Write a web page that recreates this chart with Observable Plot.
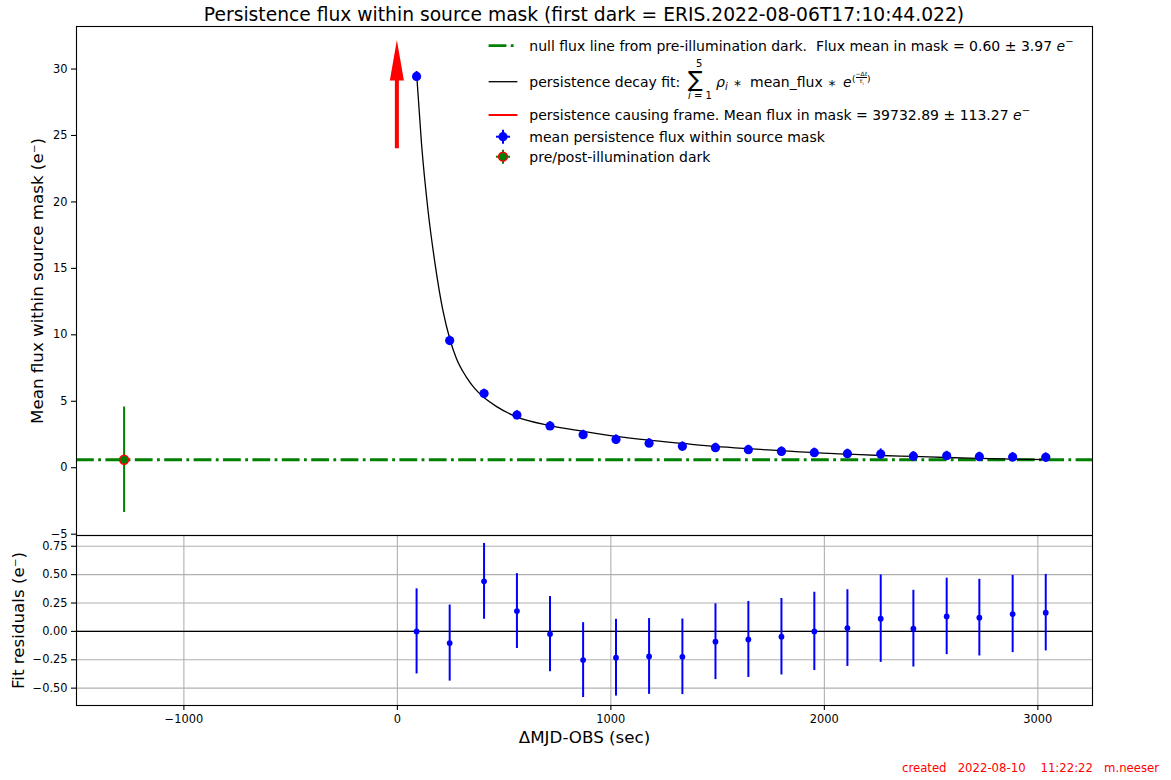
<!DOCTYPE html>
<html><head><meta charset="utf-8">
<script src="https://cdn.jsdelivr.net/npm/d3@7"></script>
<script src="https://cdn.jsdelivr.net/npm/@observablehq/plot@0.6"></script>
<style>
body{margin:0;background:#fff;font-family:"DejaVu Sans",sans-serif;color:#000;}
#fig{position:relative;width:1171px;height:780px;overflow:hidden;background:#fff;}
#fig > svg{position:absolute;left:0;}
.abs{position:absolute;white-space:pre;line-height:18px;font-size:14px;}
</style></head><body><div id="fig"></div>
<script>
// ---------------- data ----------------
const dtSec = [90, 245, 406, 560, 715, 870, 1024, 1179, 1335, 1490, 1644, 1799, 1953, 2108, 2264, 2417, 2573, 2726, 2882, 3037];
const meanFlux = [29.44, 9.57, 5.58, 3.96, 3.14, 2.49, 2.13, 1.85, 1.61, 1.51, 1.36, 1.23, 1.13, 1.06, 1.03, 0.87, 0.90, 0.83, 0.80, 0.78];
const fluxErr = [0.375, 0.335, 0.334, 0.33, 0.331, 0.33, 0.338, 0.334, 0.333, 0.334, 0.335, 0.337, 0.345, 0.338, 0.385, 0.338, 0.337, 0.338, 0.34, 0.337];
const residual = [0.00, -0.103, 0.441, 0.179, -0.024, -0.253, -0.232, -0.221, -0.224, -0.091, -0.071, -0.047, 0.00, 0.029, 0.112, 0.024, 0.132, 0.121, 0.153, 0.165];
const residualErr = [0.375, 0.335, 0.334, 0.33, 0.331, 0.33, 0.338, 0.334, 0.333, 0.334, 0.335, 0.337, 0.345, 0.338, 0.385, 0.338, 0.337, 0.338, 0.34, 0.337];
const fitDt = [91, 113, 144, 176, 213, 246, 277, 324, 363, 406, 465, 560, 715, 870, 1024, 1179, 1335, 1490, 1644, 1799, 1953, 2108, 2264, 2417, 2573, 2726, 2882, 3037];
const fitFlux = [29.44, 24.4, 19.3, 15.4, 11.85, 9.67, 8.2, 6.8, 5.95, 5.28, 4.6, 3.82, 3.16, 2.74, 2.36, 2.07, 1.83, 1.60, 1.43, 1.28, 1.13, 1.03, 0.92, 0.85, 0.77, 0.71, 0.65, 0.61];
const darkDt = [-1280];
const darkFlux = [0.60];
const darkErr = [3.97];
const nullFlux = 0.60;
const causingFrame = {dt: 0, y: 24.0, dy: 8.15};
const xTicks = [-1000, 0, 1000, 2000, 3000];
const yTicksTop = [-5, 0, 5, 10, 15, 20, 25, 30];
const yTicksRes = [-0.5, -0.25, 0, 0.25, 0.5, 0.75];
const titleText = "Persistence flux within source mask (first dark = ERIS.2022-08-06T17:10:44.022)";
const yLabelTop = "Mean flux within source mask (e\u207B)";
const yLabelRes = "Fit residuals (e\u207B)";
const xLabel = "\u0394MJD-OBS (sec)";
const captionText = "created   2022-08-10    11:22:22   m.neeser";

// ---------------- tables ----------------
const points = dtSec.map((d, i) => ({dt: d, flux: meanFlux[i], err: fluxErr[i], res: residual[i], rerr: residualErr[i]}));
const fit = fitDt.map((d, i) => ({dt: d, flux: fitFlux[i]}));
const dark = darkDt.map((d, i) => ({dt: d, flux: darkFlux[i], err: darkErr[i]}));
function arrowPoly(a) {
  const shaftHalf = 9.4, headHalf = 33, headLen = 3.05;
  const yb = a.y + a.dy - headLen;
  return [
    {y: a.y, x1: a.dt - shaftHalf, x2: a.dt + shaftHalf},
    {y: yb, x1: a.dt - shaftHalf, x2: a.dt + shaftHalf},
    {y: yb, x1: a.dt - headHalf, x2: a.dt + headHalf},
    {y: a.y + a.dy, x1: a.dt, x2: a.dt}
  ];
}

const FONT = "DejaVu Sans";
const TICK_FS = 11.4;
const xDomain = [-1503, 3256];
const fmtInt = d3.format("d");
const fmt2 = d3.format(".2f");
const dashdot = "17.8,4.4,2.8,4.4";
const fig = document.getElementById("fig");

// ---------------- top panel ----------------
const topChart = Plot.plot({
  width: 1171, height: 540,
  marginLeft: 76, marginRight: 79, marginTop: 26, marginBottom: 5,
  style: {fontFamily: FONT, background: "transparent", overflow: "visible"},
  x: {domain: xDomain, axis: null},
  y: {domain: [-5.1, 33.2]},
  marks: [
    Plot.ruleY([nullFlux], {stroke: "green", strokeWidth: 2.8, strokeDasharray: dashdot}),
    Plot.ruleX(dark, {x: "dt", y1: d => d.flux - d.err, y2: d => d.flux + d.err, stroke: "green", strokeWidth: 2}),
    Plot.line(fit, {x: "dt", y: "flux", stroke: "black", strokeWidth: 1.3, curve: "monotone-x"}),
    Plot.ruleX(points, {x: "dt", y1: d => d.flux - d.err, y2: d => d.flux + d.err, stroke: "blue", strokeWidth: 2}),
    Plot.dot(points, {x: "dt", y: "flux", r: 4.6, fill: "blue", stroke: "none"}),
    Plot.dot(dark, {x: "dt", y: "flux", r: 4.4, fill: "green", stroke: "red", strokeWidth: 1.5}),
    Plot.areaX(arrowPoly(causingFrame), {y: "y", x1: "x1", x2: "x2", fill: "red", curve: "linear"}),
    Plot.frame({stroke: "black", strokeWidth: 1.1}),
    Plot.axisY({ticks: yTicksTop, tickFormat: fmtInt, tickSize: 5, tickPadding: 4, fontSize: TICK_FS, strokeWidth: 1.1, label: null}),
    Plot.text([yLabelTop], {text: d => d, frameAnchor: "left", textAnchor: "middle", lineAnchor: "middle", rotate: -90, dx: -39, fontSize: 16.7})
  ]
});
topChart.style.top = "0px";
fig.appendChild(topChart);

// ---------------- residual panel ----------------
const botChart = Plot.plot({
  width: 1171, height: 225,
  marginLeft: 76, marginRight: 79, marginTop: 5, marginBottom: 50,
  style: {fontFamily: FONT, background: "transparent", overflow: "visible"},
  x: {domain: xDomain},
  y: {domain: [-0.653, 0.845]},
  marks: [
    Plot.gridX(xTicks, {stroke: "#b0b0b0", strokeOpacity: 1, strokeWidth: 1.1}),
    Plot.gridY(yTicksRes, {stroke: "#b0b0b0", strokeOpacity: 1, strokeWidth: 1.1}),
    Plot.ruleY([0], {stroke: "black", strokeWidth: 1.3}),
    Plot.ruleX(points, {x: "dt", y1: d => d.res - d.rerr, y2: d => d.res + d.rerr, stroke: "blue", strokeWidth: 2}),
    Plot.dot(points, {x: "dt", y: "res", r: 2.9, fill: "blue", stroke: "none"}),
    Plot.frame({stroke: "black", strokeWidth: 1.1}),
    Plot.axisY({ticks: yTicksRes, tickFormat: fmt2, tickSize: 5, tickPadding: 4, fontSize: TICK_FS, strokeWidth: 1.1, label: null}),
    Plot.axisX({ticks: xTicks, tickFormat: fmtInt, tickSize: 5, tickPadding: 4, fontSize: TICK_FS, strokeWidth: 1.1, label: null}),
    Plot.text([yLabelRes], {text: d => d, frameAnchor: "left", textAnchor: "middle", lineAnchor: "middle", rotate: -90, dx: -57.5, fontSize: 16.7}),
    Plot.text([xLabel], {text: d => d, frameAnchor: "bottom", textAnchor: "middle", lineAnchor: "middle", dy: 32, fontSize: 16.7})
  ]
});
botChart.style.top = "530px";
fig.appendChild(botChart);

// ---------------- title & caption ----------------
function addDiv(html, css) {
  const d = document.createElement("div");
  d.className = "abs";
  d.innerHTML = html;
  Object.assign(d.style, css);
  fig.appendChild(d);
  return d;
}
addDiv(titleText, {left: "76px", width: "1016px", textAlign: "center", top: "4px", fontSize: "18.7px", lineHeight: "22px"});
addDiv(captionText, {left: "902px", top: "761px", fontSize: "11.7px", lineHeight: "14px", color: "#ff0000"});

// ---------------- legend ----------------
const ns = "http://www.w3.org/2000/svg";
const lg = document.createElementNS(ns, "svg");
lg.setAttribute("width", 1171); lg.setAttribute("height", 200);
lg.style.top = "0px"; lg.style.pointerEvents = "none";
const hx1 = 488.6, hx2 = 517.4, hxc = 503;
const rows = [45.7, 81.7, 115, 136.7, 156.7];
lg.innerHTML = `
  <line x1="${hx1}" x2="${hx2}" y1="${rows[0]}" y2="${rows[0]}" stroke="green" stroke-width="2.8" stroke-dasharray="${dashdot}"/>
  <line x1="${hx1}" x2="${hx2}" y1="${rows[1]}" y2="${rows[1]}" stroke="black" stroke-width="1.3"/>
  <line x1="${hx1}" x2="${hx2}" y1="${rows[2]}" y2="${rows[2]}" stroke="red" stroke-width="2"/>
  <line x1="${hxc}" x2="${hxc}" y1="${rows[3]-7}" y2="${rows[3]+7}" stroke="blue" stroke-width="2"/>
  <line x1="${hxc-7}" x2="${hxc+7}" y1="${rows[3]}" y2="${rows[3]}" stroke="blue" stroke-width="2"/>
  <circle cx="${hxc}" cy="${rows[3]}" r="4.6" fill="blue"/>
  <line x1="${hxc}" x2="${hxc}" y1="${rows[4]-7}" y2="${rows[4]+7}" stroke="green" stroke-width="2"/>
  <line x1="${hxc-7}" x2="${hxc+7}" y1="${rows[4]}" y2="${rows[4]}" stroke="green" stroke-width="2"/>
  <circle cx="${hxc}" cy="${rows[4]}" r="4.4" fill="green" stroke="red" stroke-width="1.5"/>
`;
fig.appendChild(lg);

const tx = 529.3;
const rowTop = c => (c - 8.8) + "px";
const starTop = c => (c - 8.8 + 3) + "px";
addDiv('null flux line from pre-illumination dark.  Flux mean in mask = 0.60 \u00B1 3.97 <i>e</i><sup style="font-size:10px;vertical-align:6px;line-height:0">\u2212</sup>', {left: tx + "px", top: rowTop(rows[0])});
addDiv('persistence decay fit:', {left: tx + "px", top: rowTop(rows[1])});
addDiv('5', {left: "696px", top: "58px", fontSize: "10px", lineHeight: "12px"});
addDiv('\u2211', {left: "688px", top: "66px", fontSize: "22px", lineHeight: "28px"});
addDiv('<i>i</i> = 1', {left: "688px", top: "90px", fontSize: "10px", lineHeight: "12px"});
addDiv('<i>\u03C1</i><sub style="font-size:10px;vertical-align:-3px;line-height:0"><i>i</i></sub>', {left: "716px", top: rowTop(rows[1])});
addDiv('*', {left: "734px", top: starTop(rows[1])});
addDiv('mean_flux', {left: "750px", top: rowTop(rows[1])});
addDiv('*', {left: "828.5px", top: starTop(rows[1])});
addDiv('<i>e</i>', {left: "843px", top: rowTop(rows[1])});
addDiv('<span style="font-size:9px">(</span><span style="display:inline-block;vertical-align:middle;text-align:center;font-size:6px;line-height:6px"><span style="display:block;border-bottom:0.6px solid #000">\u2212\u0394<i>t</i></span><span style="display:block"><i>\u03C4</i><sub style="font-size:4px;line-height:0">i</sub></span></span><span style="font-size:9px">)</span>', {left: "852px", top: "70px", lineHeight: "14px"});
addDiv('persistence causing frame. Mean flux in mask = 39732.89 \u00B1 113.27 <i>e</i><sup style="font-size:10px;vertical-align:6px;line-height:0">\u2212</sup>', {left: tx + "px", top: rowTop(rows[2])});
addDiv('mean persistence flux within source mask', {left: tx + "px", top: rowTop(rows[3])});
addDiv('pre/post-illumination dark', {left: tx + "px", top: rowTop(rows[4])});
</script></body></html>
